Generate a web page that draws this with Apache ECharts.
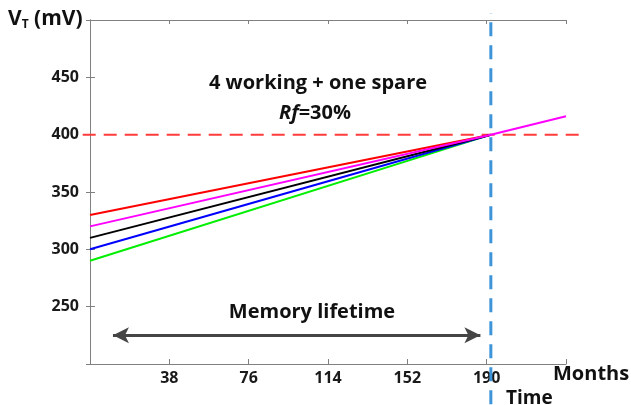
<!DOCTYPE html>
<html>
<head>
<meta charset="utf-8">
<script src="https://cdn.jsdelivr.net/npm/echarts@6/dist/echarts.min.js"></script>
<style>
  html, body { margin: 0; padding: 0; background: #fff; }
  #chart { width: 631px; height: 405px; }
</style>
</head>
<body>
<div id="chart"></div>
<script>
// data
const months = [0, 192, 228]
const redVals = [330, 400, null]
const magentaVals = [320, 400, 416]
const blackVals = [310, 400, null]
const blueVals = [300, 400, null]
const greenVals = [290, 400, null]
const limitVT = 400
const lifetimeMonth = 192
const arrowFrom = [11, 225]
const arrowTo = [187, 225]
const xTicks = [38, 76, 114, 152, 190]
const yTicks = [250, 300, 350, 400, 450]

// frame layout
const X_MIN = 0, X_MAX = 228, Y_MIN = 200, Y_MAX = 500
const G = { left: 90, right: 65, top: 20, bottom: 41 }
const W = 631, H = 405
const pxX = (W - G.left - G.right) / (X_MAX - X_MIN)
const pxY = (H - G.top - G.bottom) / (Y_MAX - Y_MIN)
// overlay range for the dashed guides that run past the frame
const X2_MIN = -3.5, X2_MAX = 236, Y2_MIN = 165, Y2_MAX = 506

const AXIS = '#808080'
const FONT = '"Open Sans", "Noto Sans", sans-serif'

const chart = echarts.init(document.getElementById('chart'), null, { renderer: 'canvas' })

function pairs(vals) {
  return months.map((m, i) => [m, vals[i]])
}

function dataLine(vals, color) {
  return {
    type: 'line', xAxisIndex: 0, yAxisIndex: 0,
    data: pairs(vals), showSymbol: false, silent: true,
    lineStyle: { color, width: 2 }, z: 3,
  }
}

const tickLabel = { fontFamily: FONT, fontWeight: 'bold', fontSize: 16, color: '#1a1a1a' }

chart.setOption({
  animation: false,
  grid: [
    { left: G.left, right: G.right, top: G.top, bottom: G.bottom },
    {
      left: G.left + X2_MIN * pxX,
      right: G.right - (X2_MAX - X_MAX) * pxX,
      top: G.top - (Y2_MAX - Y_MAX) * pxY,
      bottom: G.bottom - (Y_MIN - Y2_MIN) * pxY,
    },
  ],
  xAxis: [
    {
      gridIndex: 0, type: 'value', min: X_MIN, max: X_MAX, interval: 38, position: 'bottom',
      axisLine: { lineStyle: { color: AXIS } },
      axisTick: { inside: true, length: 5, lineStyle: { color: AXIS } },
      axisLabel: { ...tickLabel, margin: 6, formatter: v => xTicks.includes(v) ? String(v) : '' },
      splitLine: { show: false },
    },
    {
      gridIndex: 0, type: 'value', min: X_MIN, max: X_MAX, interval: 38, position: 'top',
      axisLine: { lineStyle: { color: AXIS } },
      axisTick: { inside: true, length: 4, lineStyle: { color: AXIS } },
      axisLabel: { show: false }, splitLine: { show: false },
    },
    { gridIndex: 1, type: 'value', min: X2_MIN, max: X2_MAX, show: false },
  ],
  yAxis: [
    {
      gridIndex: 0, type: 'value', min: Y_MIN, max: Y_MAX, interval: 50, position: 'left',
      axisLine: { show: true, lineStyle: { color: AXIS } },
      axisTick: { show: true, inside: true, length: 5, lineStyle: { color: AXIS } },
      axisLabel: { ...tickLabel, margin: 11, formatter: v => yTicks.includes(v) ? String(v) : '' },
      splitLine: { show: false },
    },
    {
      gridIndex: 0, type: 'value', min: Y_MIN, max: Y_MAX, interval: 50, position: 'right',
      axisLine: { show: true, lineStyle: { color: AXIS } },
      axisTick: { show: true, inside: true, length: 4, lineStyle: { color: AXIS } },
      axisLabel: { show: false }, splitLine: { show: false },
    },
    { gridIndex: 1, type: 'value', min: Y2_MIN, max: Y2_MAX, show: false },
  ],
  series: [
    {
      type: 'line', xAxisIndex: 2, yAxisIndex: 2, silent: true, showSymbol: false,
      data: [[X2_MIN, limitVT], [X2_MAX, limitVT]],
      lineStyle: { color: '#ff3b3b', width: 2, type: [13, 8] }, z: 2,
    },
    dataLine(greenVals, '#00ee00'),
    dataLine(blueVals, '#0000ff'),
    dataLine(blackVals, '#000000'),
    dataLine(redVals, '#ff0000'),
    dataLine(magentaVals, '#ff00ff'),
    {
      type: 'line', xAxisIndex: 2, yAxisIndex: 2, silent: true, showSymbol: false,
      data: [[lifetimeMonth, Y2_MIN], [lifetimeMonth, Y2_MAX]],
      lineStyle: { color: '#3d94d8', width: 3, type: [14, 9] }, z: 4,
    },
    {
      type: 'line', xAxisIndex: 0, yAxisIndex: 0, silent: true, data: [],
      markLine: {
        silent: true, symbol: ['arrow', 'arrow'], symbolSize: [12, 16],
        label: { show: false },
        lineStyle: { color: '#454545', width: 3, type: 'solid' },
        data: [[{ coord: arrowFrom }, { coord: arrowTo }]],
      },
    },
  ],
  graphic: [
    {
      type: 'text', x: 8, y: 19,
      style: {
        text: '{a|V}{b|T}{a| (mV)}', textVerticalAlign: 'middle',
        rich: {
          a: { fontFamily: FONT, fontWeight: 'bold', fontSize: 21, fill: '#111' },
          b: { fontFamily: FONT, fontWeight: 'bold', fontSize: 12, fill: '#111', padding: [11, 0, 0, 0] },
        },
      },
    },
    {
      type: 'text', x: 318, y: 83,
      style: { text: '4 working + one spare', font: `bold 20px ${FONT}`, fill: '#111', textAlign: 'center', textVerticalAlign: 'middle' },
    },
    {
      type: 'text', x: 315, y: 113,
      style: {
        text: '{i|Rf}{n|=30%}', textAlign: 'center', textVerticalAlign: 'middle',
        rich: {
          i: { fontFamily: FONT, fontWeight: 'bold', fontStyle: 'italic', fontSize: 20, fill: '#111' },
          n: { fontFamily: FONT, fontWeight: 'bold', fontSize: 20, fill: '#111' },
        },
      },
    },
    {
      type: 'text', x: 312, y: 312,
      style: { text: 'Memory lifetime', font: `bold 20px ${FONT}`, fill: '#111', textAlign: 'center', textVerticalAlign: 'middle' },
    },
    {
      type: 'text', x: 553, y: 374,
      style: { text: 'Months', font: `bold 20px ${FONT}`, fill: '#111', textVerticalAlign: 'middle' },
    },
    {
      type: 'text', x: 506, y: 399,
      style: { text: 'Time', font: `bold 19px ${FONT}`, fill: '#111', textVerticalAlign: 'middle' },
    },
  ],
})
</script>
</body>
</html>
